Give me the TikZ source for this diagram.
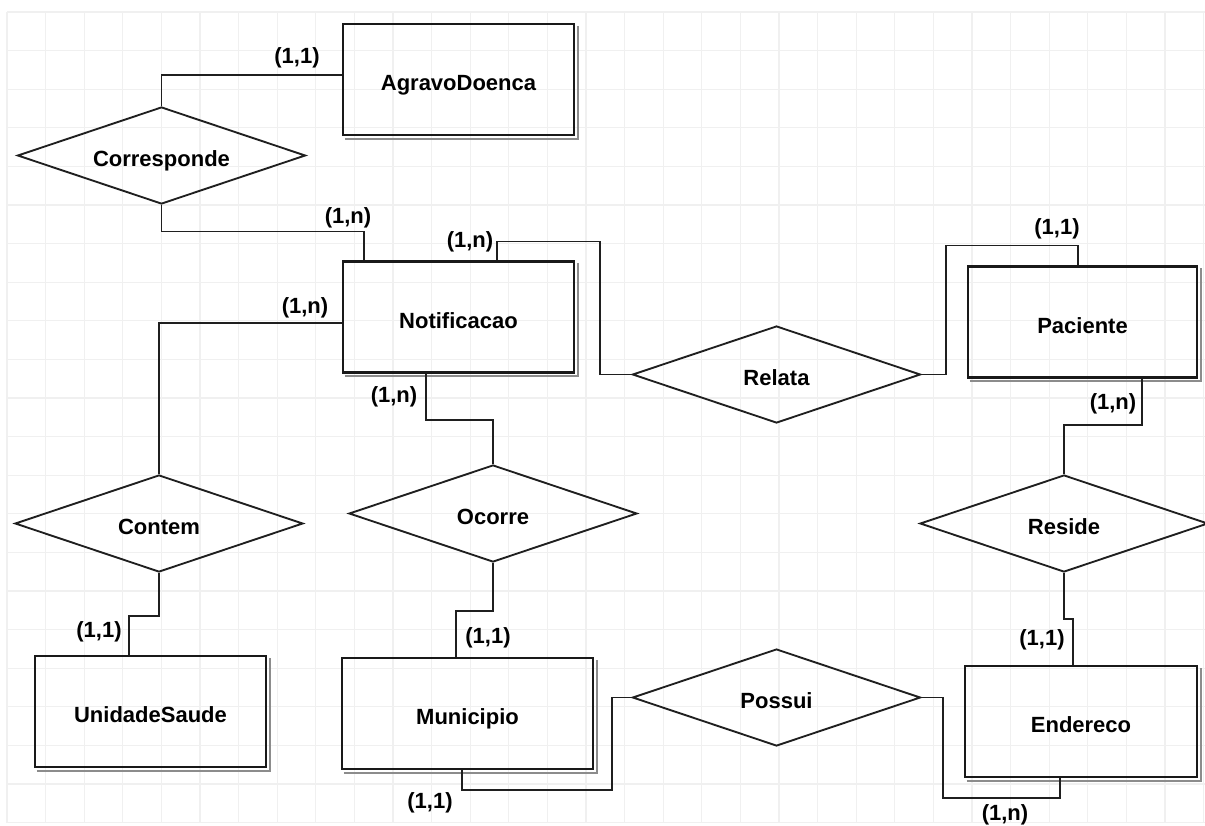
\documentclass[tikz,border=0pt]{standalone}
\usepackage{fontspec}
\setmainfont{Liberation Sans}
\usetikzlibrary{shapes.geometric,calc}
\begin{document}
\begin{tikzpicture}[x=0.75pt,y=-0.75pt,
  lbl/.style={font=\bfseries\fontsize{16.5}{19}\selectfont},
  ent/.style={lbl, draw=black!90, line width=1.8pt, rectangle, minimum width=173.25pt, minimum height=83pt, inner sep=0pt, text height=17pt, text depth=0pt},
  rel/.style={lbl, draw=black!88, line width=1.4pt, diamond, aspect=3, minimum width=216pt, minimum height=72.75pt, inner sep=0pt, text height=17pt, text depth=0pt},
  card/.style={lbl, inner sep=0pt},
  conn/.style={draw=black!88, line width=1.45pt},
  shad/.style={draw=black!45, line width=1.6pt},
  gridc/.style={draw=black!6, line width=0.8pt}]
\useasboundingbox (0,0) rectangle (1205,825);
\fill[white] (0,0) rectangle (1205,825);
% grid
\foreach \i in {0,...,31} { \draw[gridc] ({7+38.6*\i},12) -- ({7+38.6*\i},823); }
\foreach \j in {0,...,21} { \draw[gridc] (7,{12+38.6*\j}) -- (1205,{12+38.6*\j}); }

% entities
\node[ent] (agr) at (458.5,79.5) {AgravoDoenca};
\node[ent] (not) at (458.5,317) {Notificacao};
\node[ent, minimum width=171.75pt] (pac) at (1082.5,322) {Paciente};
\node[ent] (uni) at (150.5,711.5) {UnidadeSaude};
\node[ent, minimum width=188.25pt] (mun) at (467.5,713.5) {Municipio};
\node[ent, minimum width=174pt] (end) at (1081,721.5) {Endereco};

\foreach \n in {agr,not,pac,uni,mun,end}{
  \draw[shad] ($(\n.south west)+(3,2.8)$) -- ($(\n.south east)+(2.8,2.8)$) -- ($(\n.north east)+(2.8,3)$);
}

% relationships
\node[rel] (cor) at (161.5,155.5) {Corresponde};
\node[rel] (rla) at (776.5,374.5) {Relata};
\node[rel] (con) at (159,523.5) {Contem};
\node[rel] (oco) at (493,513.5) {Ocorre};
\node[rel] (res) at (1064,523.5) {Reside};
\node[rel] (pos) at (776.5,697.5) {Possui};

% connectors
\draw[conn] ($(agr.west)+(0,-4.5)$) -| (cor.north);
\draw[conn] (cor.south) |- ($(not.north west)+(22,-29)$) -- ($(not.north west)+(22,0)$);
\draw[conn] ($(not.north west)+(155,0)$) -- ++(0,-19) -| ($(rla.west)+(-32,0)$) -- (rla.west);
\draw[conn] (rla.east) -- ++(25,0) |- ($(pac.north west)+(111,-20)$) -- ($(pac.north west)+(111,0)$);
\draw[conn] ($(pac.south west)+(175,0)$) |- ($(res.north)+(0,-49)$) -- (res.north);
\draw[conn] (res.south) -- ++(0,46) -| ($(end.north west)+(109,0)$);
\draw[conn] ($(end.south west)+(96,0)$) -- ++(0,20) -| ($(pos.east)+(22,0)$) -- (pos.east);
\draw[conn] (pos.west) -- ++(-20,0) |- ($(mun.south west)+(121,20)$) -- ($(mun.south west)+(121,0)$);
\draw[conn] (oco.south) -- ++(0,48) -| ($(mun.north west)+(115,0)$);
\draw[conn] ($(not.south west)+(84,0)$) -- ++(0,46) -| (oco.north);
\draw[conn] ($(not.west)+(0,6)$) -| (con.north);
\draw[conn] (con.south) -- ++(0,43) -| ($(uni.north west)+(95,0)$);

% cardinalities
\node[card] (c1) at (297,58) {(1,1)};
\node[card] (c2) at (348,218) {(1,n)};
\node[card] (c3) at (470,242) {(1,n)};
\node[card] (c4) at (305,308) {(1,n)};
\node[card] (c5) at (394,397) {(1,n)};
\node[card] (c6) at (1057,229) {(1,1)};
\node[card] (c7) at (1113,404) {(1,n)};
\node[card] (c8) at (1042,640) {(1,1)};
\node[card] (c9) at (1005,815) {(1,n)};
\node[card] (c10) at (430,803) {(1,1)};
\node[card] (c11) at (488,638) {(1,1)};
\node[card] (c12) at (99,632) {(1,1)};
\end{tikzpicture}
\end{document}
